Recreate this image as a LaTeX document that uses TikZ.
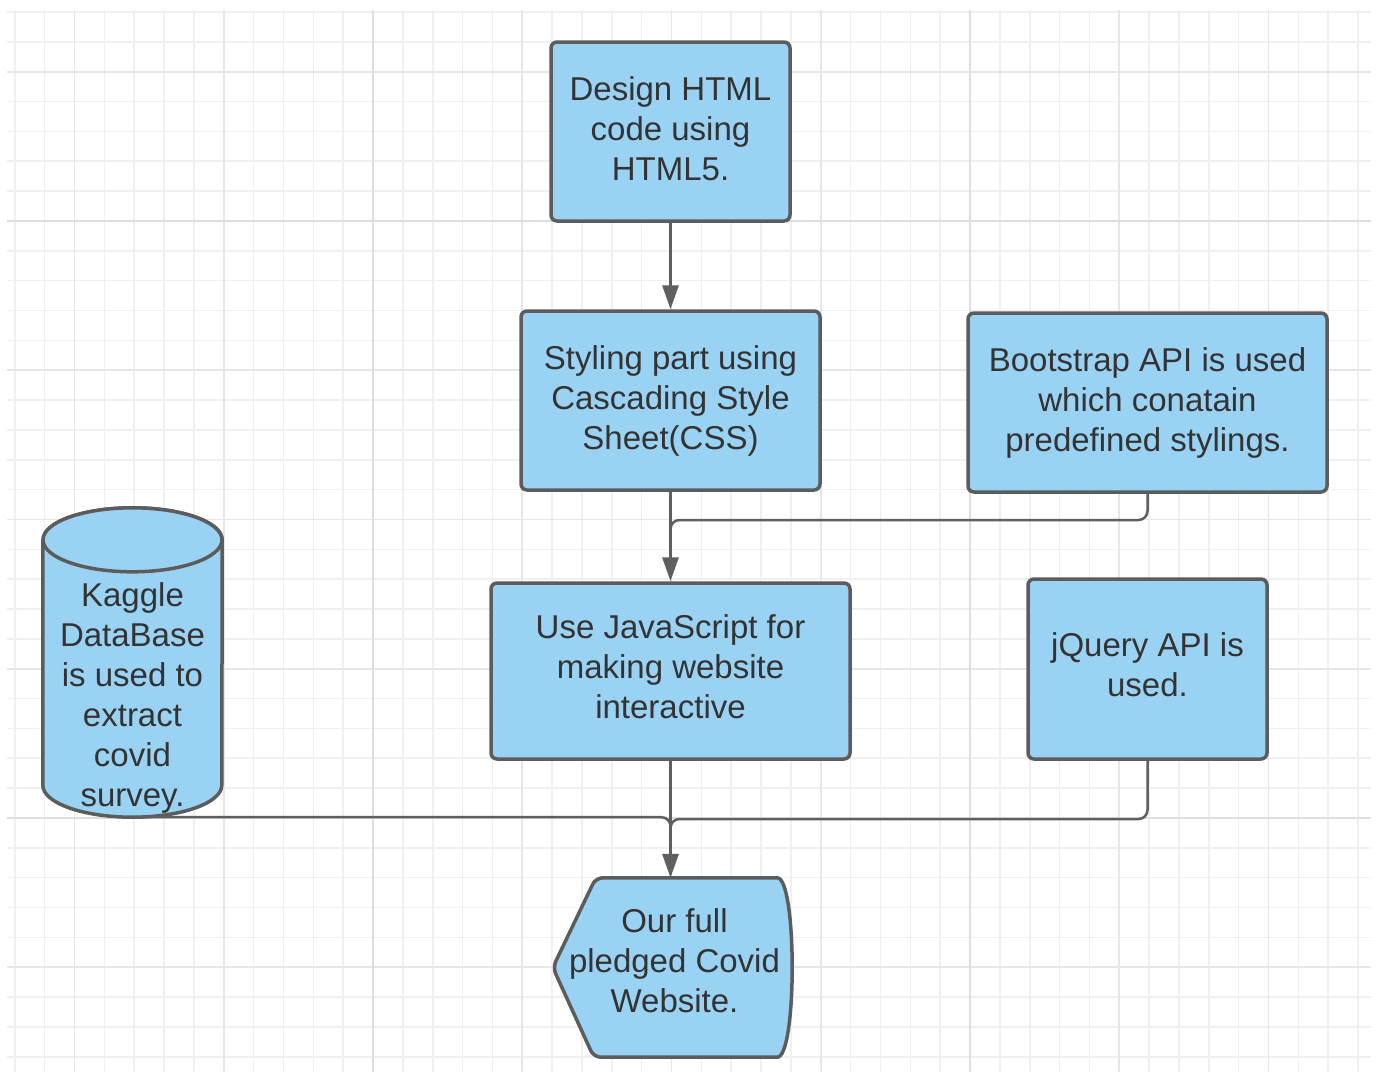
\documentclass[tikz,border=0pt]{standalone}
\usepackage{fontspec}
\setmainfont{Liberation Sans}
\usetikzlibrary{arrows.meta,calc}

\definecolor{boxfill}{RGB}{154,210,243}
\definecolor{boxline}{RGB}{92,92,92}
\definecolor{linkcol}{RGB}{95,95,95}
\definecolor{txt}{RGB}{51,51,51}
\definecolor{gridminor}{RGB}{240,240,240}
\definecolor{gridmid}{RGB}{230,230,230}
\definecolor{gridmajor}{RGB}{222,222,222}

\tikzset{
  stepbox/.style={rectangle, rounded corners=6pt, draw=boxline, line width=3.5pt,
    fill=boxfill, inner sep=0pt, align=center, text=txt,
    font=\fontsize{33}{40}\selectfont},
  textonly/.style={rectangle, inner sep=0pt, align=center, text=txt,
    font=\fontsize{33}{40}\selectfont},
  shapeline/.style={draw=boxline, line width=3.5pt, fill=boxfill, line join=round},
  link/.style={draw=linkcol, line width=3pt,
    -{Triangle[length=24pt,width=16pt]}},
  branch/.style={draw=linkcol, line width=2.5pt, rounded corners=9pt},
}

\begin{document}
\begin{tikzpicture}[x=1pt,y=1pt]
\useasboundingbox (0,0) rectangle (1377,-1072);
\fill[white] (0,0) rectangle (1377,-1072);

% background grid
\foreach \k in {0,...,45}{
  \pgfmathsetmacro{\gx}{14.8+29.85*\k}
  \draw[gridminor, line width=1.6pt] (\gx,-10) -- (\gx,-1072);
}
\foreach \k in {0,...,35}{
  \pgfmathsetmacro{\gy}{12+29.85*\k}
  \draw[gridminor, line width=1.6pt] (7,-\gy) -- (1371,-\gy);
}
\foreach \k in {2,7,17,22,27,37,42}{
  \pgfmathsetmacro{\gx}{14.8+29.85*\k}
  \draw[gridmid, line width=1.8pt] (\gx,-10) -- (\gx,-1072);
}
\foreach \k in {2,12,17,22,32}{
  \pgfmathsetmacro{\gy}{12+29.85*\k}
  \draw[gridmid, line width=1.8pt] (7,-\gy) -- (1371,-\gy);
}
\foreach \k in {12,32}{
  \pgfmathsetmacro{\gx}{14.8+29.85*\k}
  \draw[gridmajor, line width=2.4pt] (\gx,-10) -- (\gx,-1072);
}
\foreach \k in {7,27}{
  \pgfmathsetmacro{\gy}{12+29.85*\k}
  \draw[gridmajor, line width=2.4pt] (7,-\gy) -- (1371,-\gy);
}

% process boxes
\node[stepbox, minimum width=239pt, minimum height=179pt, text depth=6pt] (html) at (670.5,-131.5)
  {Design HTML\\code using\\HTML5.};
\node[stepbox, minimum width=299pt, minimum height=179pt] (css) at (670.5,-400.5)
  {Styling part using\\Cascading Style\\Sheet(CSS)};
\node[stepbox, minimum width=359pt, minimum height=179pt] (boot) at (1147.5,-402.5)
  {Bootstrap API is used\\which conatain\\predefined stylings.};
\node[stepbox, minimum width=359pt, minimum height=176pt, text depth=8pt] (js) at (670.5,-671)
  {Use JavaScript for\\making website\\interactive};
\node[stepbox, minimum width=239pt, minimum height=180pt, text depth=8pt] (jq) at (1147.5,-669)
  {jQuery API is\\used.};

% database cylinder
\node[textonly, minimum width=179pt, minimum height=245pt] (db) at (132.5,-694.5) {};
\draw[shapeline] ([yshift=32pt]db.north west) -- ([yshift=32pt]db.south west)
  arc[start angle=180, end angle=360, x radius=89.5pt, y radius=32pt]
  -- ([yshift=32pt]db.north east)
  arc[start angle=0, end angle=180, x radius=89.5pt, y radius=32pt] -- cycle;
\draw[shapeline] ([yshift=32pt]db.north) ellipse [x radius=89.5pt, y radius=32pt];
\node[textonly] (dbtext) at ([yshift=-3pt]db.center)
  {Kaggle\\DataBase\\is used to\\extract\\covid\\survey.};

% final display shape
\node[textonly, minimum width=237pt, minimum height=179pt] (web) at (671.5,-967.5) {};
\draw[shapeline, rounded corners=7pt]
  (web.west) -- ([xshift=43pt]web.north west) -- ([xshift=-20pt]web.north east)
  .. controls ([xshift=7pt]web.north east) and ([xshift=7pt]web.south east) ..
  ([xshift=-20pt]web.south east) -- ([xshift=41pt]web.south west) -- cycle;
\node[textonly] (webtext) at ([xshift=3pt,yshift=7pt]web.center)
  {Our full\\pledged Covid\\Website.};

% merge points on the main line
\coordinate (m1) at (670.5,-520);
\coordinate (m2) at (670.5,-819);

% connectors
\draw[link] (html.south) -- (css.north);
\draw[branch] (boot.south) |- (m1) -- ([yshift=-20pt]m1);
\draw[link] (css.south) -- (js.north);
\draw[branch] (jq.south) |- (m2) -- ([yshift=-20pt]m2);
\draw[branch] (db.south) -| ([yshift=-20pt]m2);
\draw[link] (js.south) -- (js.south |- web.north);
\end{tikzpicture}
\end{document}
